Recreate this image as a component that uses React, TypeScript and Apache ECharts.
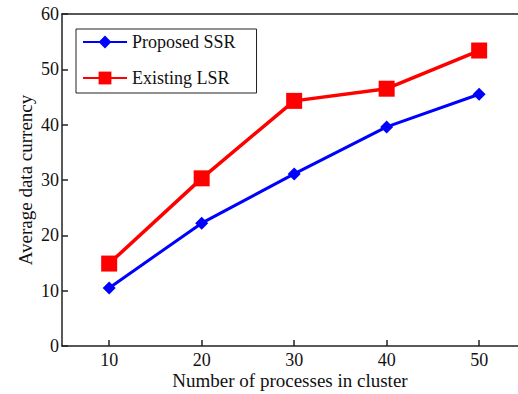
import React, { useEffect, useRef } from "react";
import * as echarts from "echarts";

const processes = [10, 20, 30, 40, 50];
const proposedSSR = [10.5, 22.2, 31.1, 39.6, 45.5];
const existingLSR = [14.9, 30.3, 44.3, 46.5, 53.4];
const xTicks = [10, 20, 30, 40, 50];

const FONT = "'Liberation Serif', 'Times New Roman', serif";
const AXIS_COLOR = "#222";

export default function App() {
  const ref = useRef<HTMLDivElement>(null);

  useEffect(() => {
    if (!ref.current) return;
    const chart = echarts.init(ref.current, undefined, { renderer: "svg" });
    chart.setOption({
      animation: false,
      backgroundColor: "#fff",
      grid: {
        left: 62,
        top: 14,
        right: 0,
        bottom: 48,
        outerBoundsMode: "none",
        containLabel: false,
      },
      legend: {
        orient: "vertical",
        left: 76,
        top: 29,
        padding: [4, 21, 6, 6],
        itemGap: 18,
        itemWidth: 44,
        itemHeight: 16,
        borderColor: AXIS_COLOR,
        borderWidth: 1,
        textStyle: { fontFamily: FONT, fontSize: 18, color: "#111" },
        data: ["Proposed SSR", "Existing LSR"],
      },
      xAxis: [
        {
          type: "value",
          min: 4.9,
          max: 54.2,
          name: "Number of processes in cluster",
          nameLocation: "middle",
          nameGap: 25,
          nameMoveOverlap: false,
          nameTextStyle: { fontFamily: FONT, fontSize: 19, color: "#111" },
          axisLine: { lineStyle: { color: AXIS_COLOR, width: 1.5 } },
          axisTick: { inside: true, length: 6, customValues: xTicks, lineStyle: { color: AXIS_COLOR, width: 1.5 } },
          axisLabel: { customValues: xTicks, fontFamily: FONT, fontSize: 18, color: "#111", margin: 5 },
          splitLine: { show: false },
        },
        {
          // top frame line of the plot box
          type: "value",
          position: "top",
          min: 4.9,
          max: 54.2,
          axisLine: { show: true, lineStyle: { color: AXIS_COLOR, width: 1.5 } },
          axisTick: { show: false },
          axisLabel: { show: false },
          splitLine: { show: false },
        },
      ],
      yAxis: {
        type: "value",
        min: 0,
        max: 60,
        interval: 10,
        name: "Average data currency",
        nameLocation: "middle",
        nameGap: 27,
        nameMoveOverlap: false,
        nameTextStyle: { fontFamily: FONT, fontSize: 19, color: "#111" },
        axisLine: { lineStyle: { color: AXIS_COLOR, width: 1.5 } },
        axisTick: { inside: true, length: 6, lineStyle: { color: AXIS_COLOR, width: 1.5 } },
        axisLabel: { fontFamily: FONT, fontSize: 18, color: "#111", margin: 3 },
        splitLine: { show: false },
      },
      series: [
        {
          name: "Proposed SSR",
          type: "line",
          data: processes.map((x, i) => [x, proposedSSR[i]]),
          symbol: "diamond",
          symbolSize: 13,
          itemStyle: { color: "#0000ff" },
          lineStyle: { color: "#0000ff", width: 3 },
        },
        {
          name: "Existing LSR",
          type: "line",
          data: processes.map((x, i) => [x, existingLSR[i]]),
          symbol: "rect",
          symbolSize: 16,
          itemStyle: { color: "#ff0000" },
          lineStyle: { color: "#ff0000", width: 3.5 },
        },
      ],
    });
    return () => chart.dispose();
  }, []);

  return <div ref={ref} style={{ width: 518, height: 394, position: "absolute", left: 0, top: 0 }} />;
}
